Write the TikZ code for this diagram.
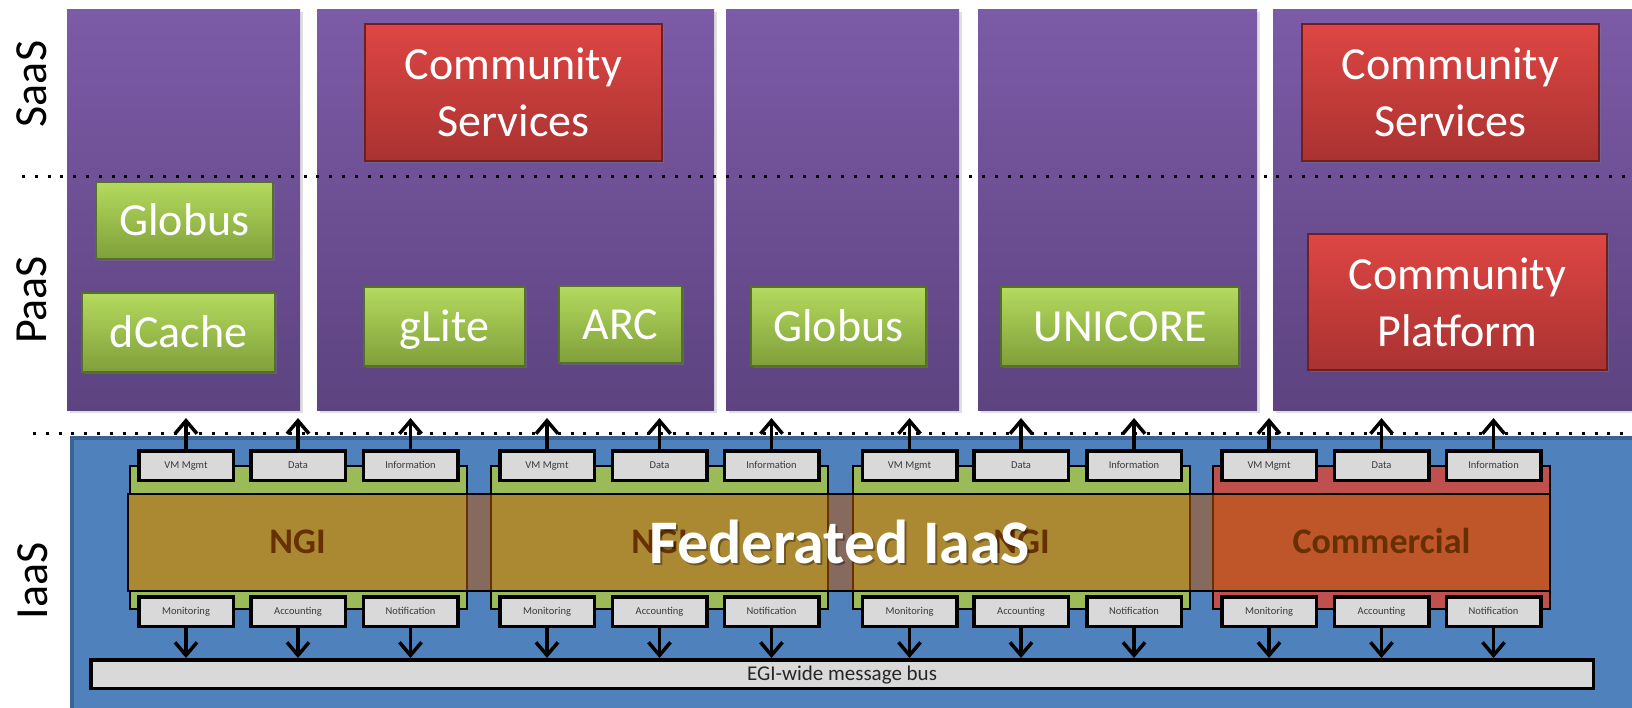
\documentclass[tikz,border=0pt]{standalone}
\usepackage{fontspec}
\setmainfont{Carlito}
\usetikzlibrary{arrows.meta,shadows}
\definecolor{purpleTop}{HTML}{7C5BA7}
\definecolor{purpleBot}{HTML}{5D4380}
\definecolor{greenTop}{HTML}{B4DA5E}
\definecolor{greenBot}{HTML}{809F3A}
\definecolor{greenEdge}{HTML}{55702A}
\definecolor{redTop}{HTML}{DE4643}
\definecolor{redBot}{HTML}{A93231}
\definecolor{redEdge}{HTML}{6E2020}
\definecolor{iaasBlue}{HTML}{4F81BD}
\definecolor{iaasBlueDark}{HTML}{3B6496}
\definecolor{bandGreen}{HTML}{9BBB59}
\definecolor{bandRed}{HTML}{C0504D}
\definecolor{ngiOrange}{HTML}{AB8832}
\definecolor{comOrange}{HTML}{BF5629}
\definecolor{gapBrown}{HTML}{876A5E}
\definecolor{labelBrown}{HTML}{663000}
\definecolor{boxGray}{HTML}{D9D9D9}
\definecolor{boxText}{HTML}{3A3A3A}
\tikzset{
  colbox/.style={rectangle, inner sep=0pt, top color=purpleTop, bottom color=purpleBot, draw=none,
    drop shadow={opacity=0.25, shadow xshift=3pt, shadow yshift=-3pt}},
  gbox/.style={rectangle, inner sep=0pt, top color=greenTop, bottom color=greenBot, draw=greenEdge,
    line width=1.2pt, text=white, font=\fontsize{46}{56}\selectfont, text height=29.6pt, text depth=0pt,
    drop shadow={opacity=0.35, shadow xshift=2pt, shadow yshift=-2pt}},
  rbox/.style={rectangle, inner sep=0pt, top color=redTop, bottom color=redBot, draw=redEdge,
    line width=1.2pt, text=white, font=\fontsize{46}{57}\selectfont, align=center,
    drop shadow={opacity=0.35, shadow xshift=2pt, shadow yshift=-2pt}},
  layerlabel/.style={rotate=90, inner sep=0pt, font=\fontsize{46}{46}\selectfont, text height=29.6pt, text depth=0pt},
  dotline/.style={line width=3pt, dash pattern=on 3pt off 9.8pt},
  sbox/.style={rectangle, draw=black, line width=3.5pt, fill=boxGray, minimum width=94.5pt, minimum height=29.5pt,
    inner sep=0pt, text=boxText, font=\fontsize{10.5}{12}\selectfont, text height=6.8pt, text depth=0pt,
    drop shadow={opacity=0.3, shadow xshift=2pt, shadow yshift=-2pt}},
  band/.style={draw=black, line width=2.5pt},
  ngibox/.style={draw=labelBrown, line width=1.5pt},
  ngilabel/.style={anchor=base, inner sep=0pt, text=labelBrown, font=\bfseries\fontsize{36}{36}\selectfont},
  arr/.style={line width=3.5pt, -{Straight Barb[length=13pt,width=22pt]}},
  busbox/.style={rectangle, draw=black, line width=3.5pt, fill=boxGray, minimum width=1502.5pt, minimum height=28.5pt,
    inner sep=0pt, font=\fontsize{21}{24}\selectfont, text=black!85, text height=13.5pt, text depth=0pt,
    drop shadow={opacity=0.3, shadow xshift=2pt, shadow yshift=-2pt}}
}
\begin{document}
\begin{tikzpicture}[x=1pt,y=-1pt]
\useasboundingbox (0,0) rectangle (1632,707);
\clip (0,0) rectangle (1632,707);

% purple columns
\node[colbox, minimum width=233pt, minimum height=401pt] (c1) at (183.5,209.5) {};
\node[colbox, minimum width=397pt, minimum height=401pt] (c2) at (515.5,209.5) {};
\node[colbox, minimum width=233pt, minimum height=401pt] (c3) at (842.5,209.5) {};
\node[colbox, minimum width=279pt, minimum height=401pt] (c4) at (1117.5,209.5) {};
\node[colbox, minimum width=387pt, minimum height=401pt] (c5) at (1466.5,209.5) {};

% SaaS / PaaS separator
\draw[dotline] (22,176) -- (1632,176);

% layer labels
\node[layerlabel] (saas) at (32,84) {SaaS};
\node[layerlabel] (paas) at (32,300) {PaaS};
\node[layerlabel] (iaas) at (33,581) {IaaS};

% SaaS / PaaS boxes
\node[rbox, minimum width=297pt, minimum height=137pt] (cs2) at (513.5,92.5) {Community\\Services};
\node[rbox, minimum width=297pt, minimum height=137pt] (cs5) at (1450.5,92.5) {Community\\Services};
\node[rbox, minimum width=299pt, minimum height=136pt] (cp5) at (1457.5,302) {Community\\Platform};
\node[gbox, minimum width=177pt, minimum height=77pt] (globus1) at (184.5,220.5) {Globus};
\node[gbox, minimum width=193pt, minimum height=79pt] (dcache) at (178.5,332.5) {dCache};
\node[gbox, minimum width=161pt, minimum height=79pt] (glite) at (444.5,326.5) {gLite};
\node[gbox, minimum width=123pt, minimum height=77pt] (arc) at (620.5,324.5) {ARC};
\node[gbox, minimum width=175pt, minimum height=79pt] (globus3) at (838.5,326.5) {Globus};
\node[gbox, minimum width=238pt, minimum height=79pt] (unicore) at (1120,326.5) {UNICORE};

% PaaS / IaaS separator
\draw[dotline] (33,433) -- (1632,433);

% IaaS background
\draw[fill=iaasBlue, draw=iaasBlueDark, line width=4pt] (72,438) rectangle (1700,760);

% bands behind the provider bars
\draw[band, fill=bandGreen] (130,466) rectangle (467,609);
\draw[band, fill=bandGreen] (491,466) rectangle (828,609);
\draw[band, fill=bandGreen] (853,466) rectangle (1190,609);
\draw[band, fill=bandRed] (1213,466) rectangle (1550,609);

% provider bar
\fill[gapBrown] (128,494) rectangle (1550,591);
\draw[ngibox, fill=ngiOrange] (128,494) rectangle (467,591);
\draw[ngibox, fill=ngiOrange] (491,494) rectangle (828,591);
\draw[ngibox, fill=ngiOrange] (853,494) rectangle (1190,591);
\draw[ngibox, fill=comOrange] (1213,494) rectangle (1550,591);
\draw[line width=2.5pt] (128,494) rectangle (1550,591);

\node[ngilabel] (ngi1) at (297.5,553) {NGI};
\node[ngilabel] (ngi2) at (659.5,553) {NGI};
\node[ngilabel] (ngi3) at (1021.5,553) {NGI};
\node[ngilabel] (com) at (1381.5,553) {Commercial};

% message bus
\node[busbox] (bus) at (842,674) {EGI-wide message bus};

% service boxes and arrows
\foreach \g/\a/\b/\c in {1/186/298/410.5, 2/547/659.5/771.5, 3/909.5/1021/1134, 4/1269/1381.5/1493.5}{
  \node[sbox] (vm\g) at (\a,465.5) {VM Mgmt};
  \node[sbox] (data\g) at (\b,465.5) {Data};
  \node[sbox] (info\g) at (\c,465.5) {Information};
  \node[sbox] (mon\g) at (\a,611.5) {Monitoring};
  \node[sbox] (acc\g) at (\b,611.5) {Accounting};
  \node[sbox] (not\g) at (\c,611.5) {Notification};
  \coordinate (upvm\g) at (\a,418);
  \coordinate (updata\g) at (\b,418);
  \coordinate (upinfo\g) at (\c,418);
  \draw[arr] (vm\g) -- (upvm\g);
  \draw[arr] (data\g) -- (updata\g);
  \draw[arr] (info\g) -- (upinfo\g);
  \draw[arr] (mon\g) -- (mon\g |- bus.north);
  \draw[arr] (acc\g) -- (acc\g |- bus.north);
  \draw[arr] (not\g) -- (not\g |- bus.north);
}

% federated label
\node[anchor=base, inner sep=0pt, text=black, opacity=0.35, font=\bfseries\fontsize{62}{62}\selectfont] (fedshadow) at (842,565) {Federated IaaS};
\node[anchor=base, inner sep=0pt, text=white, font=\bfseries\fontsize{62}{62}\selectfont] (fed) at (840,563) {Federated IaaS};
\end{tikzpicture}
\end{document}
